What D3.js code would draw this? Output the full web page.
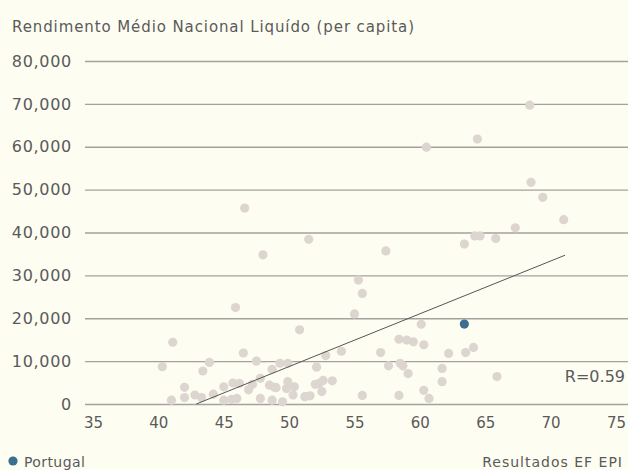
<!DOCTYPE html>
<html>
<head>
<meta charset="utf-8">
<script src="https://cdn.jsdelivr.net/npm/d3@7"></script>
<style>
  html, body { margin: 0; padding: 0; background: #fefdf2; }
  svg { display: block; font-family: "DejaVu Sans", sans-serif; }
</style>
</head>
<body>
<div id="app"></div>
<script>
const w = 628;
const h = 470;

// EF EPI score (x) vs net national income per capita (y)
const epiScores = [68.4, 64.4, 60.5, 68.5, 69.4, 71.0, 67.3, 64.2, 64.6, 65.8, 63.4,
  46.6, 51.5, 48.0, 57.4, 55.3, 55.6, 45.9, 55.0, 50.8, 60.1, 41.1,
  58.4, 59.0, 59.5, 60.3, 57.0, 62.2, 63.5, 64.1, 54.0, 52.8, 46.5, 47.5,
  43.9, 40.3, 43.4, 49.3, 49.9, 48.7, 52.1, 57.6, 58.5, 58.7, 59.1, 61.7,
  61.7, 65.9, 60.3, 60.7, 58.4, 55.6, 53.3, 52.6, 52.3, 52.0, 52.5, 51.6,
  51.2, 49.9, 50.4, 50.3, 49.8, 49.5, 48.7, 47.8, 48.9, 48.5, 47.8, 46.9,
  46.2, 45.7, 46.0, 45.6, 45.0, 45.0, 44.2, 43.3, 42.8, 42.0, 42.0, 41.0,
  47.2, 49.0];
const incomes = [69700, 61800, 59900, 51700, 48200, 43000, 41100, 39200, 39200, 38600, 37300,
  45700, 38400, 34800, 35700, 28900, 25800, 22500, 21000, 17300, 18600, 14400,
  15100, 14900, 14500, 13800, 12000, 11800, 12000, 13200, 12300, 11300, 11900, 10000,
  9700, 8700, 7700, 9500, 9500, 8100, 8600, 8900, 9500, 8900, 7100, 8300,
  5200, 6400, 3200, 1300, 2000, 2000, 5400, 5500, 4800, 4600, 2900, 1900,
  1700, 5200, 4000, 2100, 3600, 500, 900, 1300, 3900, 4400, 6000, 3300,
  4800, 4900, 1300, 1100, 4000, 900, 2300, 1500, 2100, 3900, 1500, 900,
  4600, 3800];

const portugal = { epi: 63.4, income: 18650 };

const trendX = [42.9, 71.1];
const trendY = [0, 34700];
const rLabel = "R=0.59";

const xTicks = [35, 40, 45, 50, 55, 60, 65, 70, 75];
const yTicks = [0, 10000, 20000, 30000, 40000, 50000, 60000, 70000, 80000];

const textColor = '#5a5a5a';

const svg = d3.select('#app')
  .append('svg')
  .attr('width', w)
  .attr('height', h);

const x = d3.scaleLinear().domain([35, 75]).range([93, 616]);
const y = d3.scaleLinear().domain([0, 80000]).range([404, 61]);

//////////TITLE//////////

svg.append('text')
  .attr('x', 12)
  .attr('y', 32)
  .attr('fill', textColor)
  .attr('font-size', 15)
  .attr('letter-spacing', 0.9)
  .text('Rendimento Médio Nacional Liquído (per capita)');

//////////GRID + Y AXIS//////////

const yAxis = svg.append('g')
  .attr('transform', 'translate(85,0)')
  .call(d3.axisLeft(y)
    .tickValues(yTicks)
    .tickSize(-(w - 85))
    .tickPadding(13)
    .tickFormat(d3.format(',')));

yAxis.select('.domain').remove();
yAxis.selectAll('line')
  .attr('stroke', '#a3a29b')
  .attr('stroke-width', 1.3);
yAxis.selectAll('text')
  .attr('fill', textColor)
  .attr('font-size', 16)
  .attr('letter-spacing', 0.7)
  .attr('font-family', 'DejaVu Sans, sans-serif');

//////////X AXIS//////////

const xAxis = svg.append('g')
  .attr('transform', 'translate(0,404)')
  .call(d3.axisBottom(x)
    .tickValues(xTicks)
    .tickSize(0)
    .tickPadding(13));

xAxis.select('.domain').remove();
xAxis.selectAll('text')
  .attr('fill', textColor)
  .attr('font-size', 15)
  .attr('font-family', 'DejaVu Sans, sans-serif');

//////////POINTS//////////

svg.append('g')
  .selectAll('circle')
  .data(epiScores.map((d, i) => [d, incomes[i]]))
  .enter()
  .append('circle')
  .attr('cx', (d) => x(d[0]))
  .attr('cy', (d) => y(d[1]))
  .attr('r', 4.6)
  .attr('fill', '#ddd5cf');

svg.append('circle')
  .attr('cx', x(portugal.epi))
  .attr('cy', y(portugal.income))
  .attr('r', 4.6)
  .attr('fill', '#3b6e8f');

//////////TREND LINE//////////

svg.append('line')
  .attr('x1', x(trendX[0]))
  .attr('y1', y(trendY[0]))
  .attr('x2', x(trendX[1]))
  .attr('y2', y(trendY[1]))
  .attr('stroke', '#555')
  .attr('stroke-width', 1);

svg.append('text')
  .attr('x', 625)
  .attr('y', 382)
  .attr('text-anchor', 'end')
  .attr('fill', textColor)
  .attr('font-size', 16)
  .text(rLabel);

//////////LEGEND//////////

svg.append('circle')
  .attr('cx', 13)
  .attr('cy', 461)
  .attr('r', 4.6)
  .attr('fill', '#3b6e8f');

svg.append('text')
  .attr('x', 24)
  .attr('y', 467)
  .attr('fill', textColor)
  .attr('font-size', 14)
  .attr('letter-spacing', 0.4)
  .text('Portugal');

svg.append('text')
  .attr('x', 623)
  .attr('y', 467)
  .attr('text-anchor', 'end')
  .attr('fill', textColor)
  .attr('font-size', 14)
  .attr('letter-spacing', 1)
  .text('Resultados EF EPI');
</script>
</body>
</html>
